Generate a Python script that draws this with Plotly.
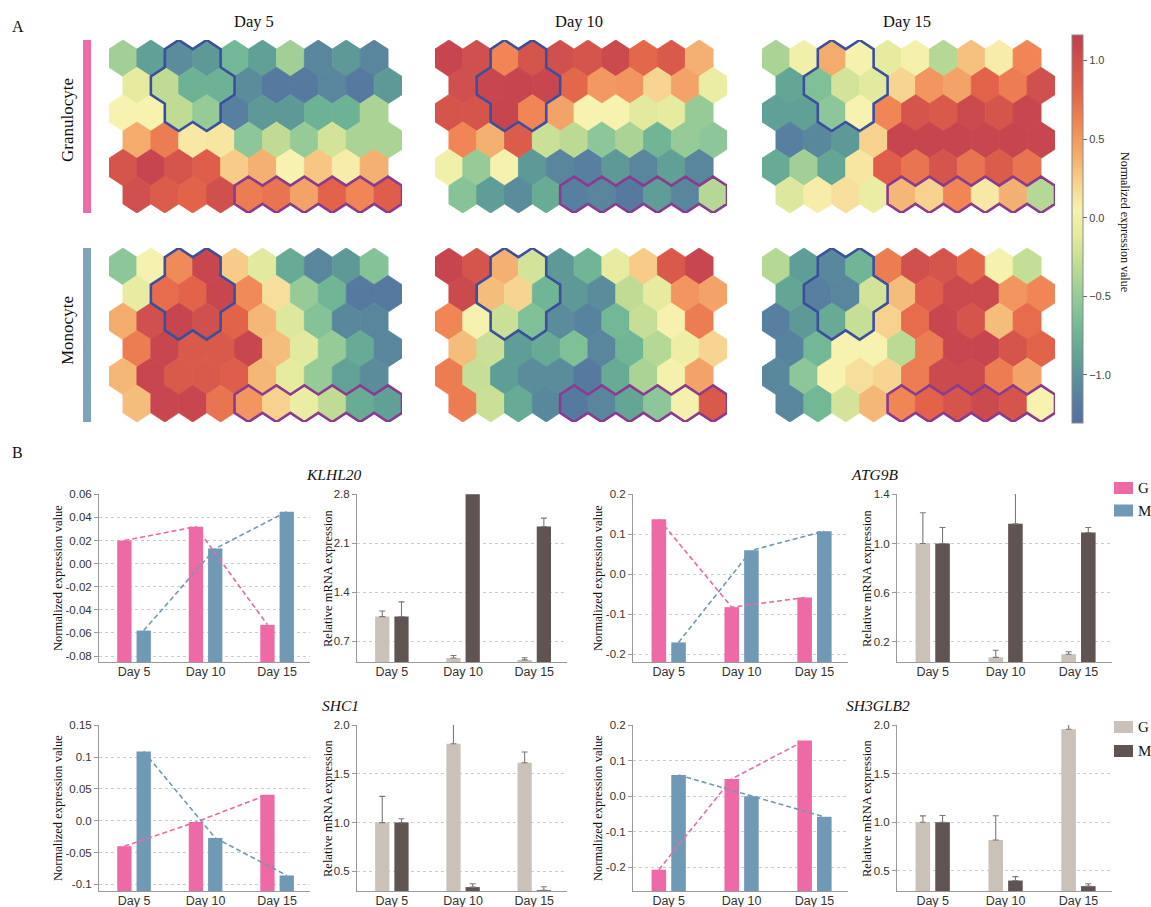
import plotly.graph_objects as go
from plotly.colors import sample_colorscale
from collections import Counter, defaultdict

W, H = 1151, 907

# ---------------- Panel A data (SOM node values, rows top->bottom, 10 columns) ----------------
map_days = ["Day 5", "Day 10", "Day 15"]
cell_types = ["Granulocyte", "Monocyte"]

gran_d5 = [
    [-0.45, -0.90, -1.05, -0.95, -0.70, -0.90, -0.45, -1.10, -0.95, -1.10],
    [-0.10, -0.30, -0.75, -0.75, -1.05, -1.20, -1.20, -1.10, -1.20, -0.95],
    [0.05, 0.05, -0.30, -0.50, -1.15, -0.95, -0.95, -0.75, -0.75, -0.40],
    [0.40, 0.65, 0.10, 0.12, -0.55, -0.30, -0.50, -0.20, -0.40, -0.40],
    [0.95, 1.10, 0.95, 0.85, 0.25, 0.38, 0.05, 0.28, 0.08, 0.38],
    [1.00, 0.88, 0.80, 1.00, 0.65, 0.70, 0.45, 0.80, 0.60, 0.85],
]
gran_d10 = [
    [1.10, 1.00, 0.60, 0.95, 1.00, 0.95, 1.05, 0.78, 0.90, 0.38],
    [1.00, 1.08, 1.10, 1.08, 0.78, 0.50, 0.52, 0.20, 0.45, -0.05],
    [0.95, 0.95, 1.10, 0.60, 0.45, 0.05, 0.05, -0.12, -0.10, -0.50],
    [0.60, 0.38, 0.87, -0.25, -0.32, -0.55, -0.40, -0.72, -0.50, -0.55],
    [0.00, -0.50, 0.03, -0.95, -1.10, -1.15, -0.95, -1.10, -0.90, -1.10],
    [-0.58, -0.92, -1.05, -0.80, -1.15, -1.10, -1.20, -0.92, -1.10, -0.35],
]
gran_d15 = [
    [-0.40, 0.00, 0.40, 0.03, -0.10, 0.02, -0.35, 0.30, 0.08, 0.60],
    [-0.85, -0.62, -0.20, -0.12, 0.20, 0.52, 0.45, 0.80, 0.65, 1.00],
    [-0.90, -0.90, -0.55, 0.05, 0.60, 0.95, 0.90, 1.05, 0.95, 1.08],
    [-1.15, -1.08, -0.95, 0.22, 1.10, 1.10, 1.10, 1.08, 1.10, 1.08],
    [-0.82, -0.45, -0.85, 0.12, 0.85, 0.70, 0.95, 0.70, 0.87, 0.70],
    [-0.15, 0.08, 0.15, -0.05, 0.35, 0.22, 0.60, 0.10, 0.38, -0.35],
]
mono_d5 = [
    [-0.55, 0.03, 0.58, 1.08, 0.25, -0.12, -0.82, -1.10, -0.95, -0.60],
    [-0.08, 0.75, 0.80, 1.08, 0.58, 0.15, -0.50, -0.72, -1.20, -1.20],
    [0.40, 1.00, 1.10, 1.00, 0.80, 0.35, -0.15, -0.60, -1.08, -1.10],
    [0.65, 1.08, 0.90, 0.90, 1.08, 0.32, -0.12, -0.50, -0.82, -1.10],
    [0.35, 1.08, 0.90, 0.90, 0.85, 0.35, -0.10, -0.50, -0.88, -1.05],
    [0.32, 1.08, 1.08, 0.70, 0.52, 0.22, -0.05, -0.30, -0.80, -0.90],
]
mono_d10 = [
    [1.10, 0.95, 0.38, -0.20, -0.95, -0.72, -0.08, 0.25, 0.90, 1.08],
    [1.05, 0.32, 0.20, -0.72, -0.95, -1.05, -0.30, -0.10, 0.52, 0.45],
    [0.60, 0.03, -0.25, -0.62, -1.05, -1.12, -0.70, -0.27, 0.06, 0.65],
    [0.32, -0.25, -0.92, -0.82, -0.62, -1.10, -0.72, -0.35, -0.03, 0.20],
    [0.65, -0.27, -0.92, -1.05, -1.05, -1.20, -0.82, -0.40, 0.02, 0.45],
    [0.65, -0.25, -0.82, -1.08, -1.20, -1.10, -0.86, -0.55, 0.02, 0.90],
]
mono_d15 = [
    [-0.35, -0.92, -1.08, -0.72, 0.65, 1.00, 0.95, 0.78, 0.03, -0.28],
    [-0.85, -1.15, -1.10, -0.20, 0.32, 0.85, 1.05, 1.05, 0.52, 0.60],
    [-1.15, -0.95, -0.82, -0.27, 0.22, 0.75, 1.08, 0.95, 0.32, 0.75],
    [-1.12, -0.70, 0.05, 0.05, -0.32, 0.65, 1.08, 1.10, 0.95, 0.80],
    [-1.08, -0.55, 0.05, 0.15, 0.20, 0.65, 1.05, 1.05, 0.65, 0.45],
    [-1.10, -0.70, -0.20, 0.35, 0.60, 0.80, 0.95, 1.05, 0.95, 0.05],
]
blue_cluster = [(0, 2), (0, 3), (1, 1), (1, 2), (1, 3), (2, 2), (2, 3)]
purple_cluster = [(5, 4), (5, 5), (5, 6), (5, 7), (5, 8), (5, 9)]
cbar_min, cbar_max = -1.307, 1.163
cbar_ticks = [-1.0, -0.5, 0.0, 0.5, 1.0]
cbar_title = "Normalized expression value"

# ---------------- Panel B data ----------------
b_days = ["Day 5", "Day 10", "Day 15"]
genes = ["KLHL20", "ATG9B", "SHC1", "SH3GLB2"]

klhl20_norm_g = [0.020, 0.032, -0.053]
klhl20_norm_m = [-0.058, 0.013, 0.045]
klhl20_rel_g = [1.05, 0.457, 0.43]
klhl20_rel_g_err = [0.08, 0.035, 0.03]
klhl20_rel_m = [1.05, 2.80, 2.34]
klhl20_rel_m_err = [0.21, 0.07, 0.12]

atg9b_norm_g = [0.138, -0.082, -0.058]
atg9b_norm_m = [-0.170, 0.060, 0.108]
atg9b_rel_g = [1.00, 0.075, 0.10]
atg9b_rel_g_err = [0.25, 0.057, 0.02]
atg9b_rel_m = [1.00, 1.16, 1.09]
atg9b_rel_m_err = [0.13, 0.28, 0.04]

shc1_norm_g = [-0.040, -0.002, 0.041]
shc1_norm_m = [0.109, -0.027, -0.086]
shc1_rel_g = [1.00, 1.81, 1.616]
shc1_rel_g_err = [0.27, 0.23, 0.11]
shc1_rel_m = [1.00, 0.337, 0.305]
shc1_rel_m_err = [0.04, 0.035, 0.035]

sh3glb2_norm_g = [-0.207, 0.049, 0.157]
sh3glb2_norm_m = [0.060, 0.000, -0.058]
sh3glb2_rel_g = [1.00, 0.816, 1.96]
sh3glb2_rel_g_err = [0.065, 0.25, 0.25]
sh3glb2_rel_m = [1.00, 0.398, 0.34]
sh3glb2_rel_m_err = [0.07, 0.04, 0.025]

klhl20_norm_ticks = [-0.08, -0.06, -0.04, -0.02, 0.00, 0.02, 0.04, 0.06]
klhl20_norm_labels = ["-0.08", "-0.06", "-0.04", "-0.02", "0.00", "0.02", "0.04", "0.06"]
klhl20_rel_ticks = [0.7, 1.4, 2.1, 2.8]
klhl20_rel_labels = ["0.7", "1.4", "2.1", "2.8"]
atg9b_norm_ticks = [-0.2, -0.1, 0.0, 0.1, 0.2]
atg9b_norm_labels = ["-0.2", "-0.1", "0.0", "0.1", "0.2"]
atg9b_rel_ticks = [0.2, 0.6, 1.0, 1.4]
atg9b_rel_labels = ["0.2", "0.6", "1.0", "1.4"]
shc1_norm_ticks = [-0.1, -0.05, 0.0, 0.05, 0.1, 0.15]
shc1_norm_labels = ["-0.1", "-0.05", "0.0", "0.05", "0.1", "0.15"]
shc1_rel_ticks = [0.5, 1.0, 1.5, 2.0]
shc1_rel_labels = ["0.5", "1.0", "1.5", "2.0"]
sh3glb2_norm_ticks = [-0.2, -0.1, 0.0, 0.1, 0.2]
sh3glb2_norm_labels = ["-0.2", "-0.1", "0.0", "0.1", "0.2"]
sh3glb2_rel_ticks = [0.5, 1.0, 1.5, 2.0]
sh3glb2_rel_labels = ["0.5", "1.0", "1.5", "2.0"]

# ---------------- styles ----------------
SERIF = "Liberation Serif, Times New Roman, serif"
SANS = "Liberation Sans, Arial, sans-serif"
PINK = "#EE6AA4"
BLUE = "#7099B6"
GREY_G = "#CAC1B9"
DARK_M = "#5F5452"
ERR_COL = "#7a7a7a"
AXIS_COL = "#9a9a9a"
GRID_COL = "#cccccc"
TXT = "#333333"

cs_vals = [-1.307, -1.2, -1.05, -0.9, -0.7, -0.5, -0.3, -0.1, 0.05, 0.25, 0.4, 0.6, 0.8, 0.95, 1.1, 1.163]
cs_hex = ['#5370A0', '#5679A0', '#5A8C9C', '#60A096', '#72B896', '#96CB98', '#C0DC94', '#E6EBA0',
          '#F7F2B0', '#F6CC88', '#F4AC6C', '#F08656', '#E2634A', '#D5554C', '#C6454F', '#C2414F']


def hex_to_rgb(h):
    h = h.lstrip('#')
    return "rgb(%d, %d, %d)" % (int(h[0:2], 16), int(h[2:4], 16), int(h[4:6], 16))


colorscale = [[(v - cbar_min) / (cbar_max - cbar_min), hex_to_rgb(c)] for v, c in zip(cs_vals, cs_hex)]
colorscale[0][0] = 0.0
colorscale[-1][0] = 1.0

fig = go.Figure()
layout = {}
shapes = []
annots = []
axis_count = [0]


def new_axes(x0, x1, y0, y1):
    axis_count[0] += 1
    n = axis_count[0]
    s = '' if n == 1 else str(n)
    layout['xaxis' + s] = dict(domain=[x0 / W, x1 / W], anchor='y' + s)
    layout['yaxis' + s] = dict(domain=[1 - y1 / H, 1 - y0 / H], anchor='x' + s)
    return 'xaxis' + s, 'yaxis' + s, 'x' + s, 'y' + s


def ann(text, x, y, size, family=SERIF, angle=0, xanchor='center', yanchor='middle', color='#111'):
    annots.append(dict(text=text, x=x / W, y=1 - y / H, xref='paper', yref='paper', showarrow=False,
                       textangle=angle, xanchor=xanchor, yanchor=yanchor,
                       font=dict(family=family, size=size, color=color)))


# ---------------- Panel A: hexagonal SOM maps ----------------
HEX = [(0, 2 / 3), (0.5, 1 / 3), (0.5, -1 / 3), (0, -2 / 3), (-0.5, -1 / 3), (-0.5, 1 / 3)]


def hex_center(r, c):
    return c + 0.5 * (r % 2), -r


def boundary_loop(cells):
    cnt = Counter()
    for r, c in cells:
        cx, cy = hex_center(r, c)
        vs = [(round(cx + dx, 4), round(cy + dy, 4)) for dx, dy in HEX]
        for i in range(6):
            cnt[frozenset((vs[i], vs[(i + 1) % 6]))] += 1
    adj = defaultdict(list)
    for e, k in cnt.items():
        if k == 1:
            a, b = tuple(e)
            adj[a].append(b)
            adj[b].append(a)
    start = sorted(adj)[0]
    loop = [start]
    prev, cur = None, start
    while True:
        nxt = [v for v in adj[cur] if v != prev][0]
        if nxt == start:
            break
        loop.append(nxt)
        prev, cur = cur, nxt
    loop.append(start)
    loop.append(loop[1])
    return loop


map_x = [(109, 402), (435, 727), (762, 1055)]
map_y = [(40, 213), (248, 422)]
grids = [[gran_d5, gran_d10, gran_d15], [mono_d5, mono_d10, mono_d15]]
all_vals = [v for rg in grids for g in rg for row in g for v in row]

first = True
for i, row_grids in enumerate(grids):
    for j, grid in enumerate(row_grids):
        xk, yk, xr, yr = new_axes(map_x[j][0], map_x[j][1], map_y[i][0], map_y[i][1])
        layout[xk].update(range=[-0.5, 10.0], visible=False, fixedrange=True)
        layout[yk].update(range=[-5 - 2 / 3, 2 / 3], visible=False, fixedrange=True)
        if first:
            cx_all = [hex_center(r, c)[0] for r in range(6) for c in range(10)]
            cy_all = [hex_center(r, c)[1] for r in range(6) for c in range(10)]
            fig.add_trace(go.Scatter(
                x=cx_all, y=cy_all, mode='markers', xaxis=xr, yaxis=yr, hoverinfo='skip', showlegend=False,
                marker=dict(size=1, opacity=0, color=all_vals[:60], colorscale=colorscale,
                            cmin=cbar_min, cmax=cbar_max, showscale=True,
                            colorbar=dict(x=1072 / W, xanchor='left', y=1 - 229 / H, yanchor='middle',
                                          len=388, lenmode='pixels', thickness=11, thicknessmode='pixels',
                                          outlinewidth=1, outlinecolor='#888', ticks='outside', ticklen=4,
                                          tickcolor='#666', tickvals=cbar_ticks, tickformat='.1f',
                                          tickfont=dict(family=SANS, size=11, color='#444'),
                                          xpad=0, ypad=0))))
            first = False
        flat = [v for row in grid for v in row]
        cols = sample_colorscale(colorscale, [(v - cbar_min) / (cbar_max - cbar_min) for v in flat])
        k = 0
        for r in range(6):
            for c in range(10):
                cx, cy = hex_center(r, c)
                xs = [cx + dx for dx, dy in HEX] + [cx + HEX[0][0]]
                ys = [cy + dy for dx, dy in HEX] + [cy + HEX[0][1]]
                fig.add_trace(go.Scatter(x=xs, y=ys, mode='lines', fill='toself', fillcolor=cols[k],
                                         line=dict(color=cols[k], width=0.8), xaxis=xr, yaxis=yr,
                                         hoverinfo='skip', showlegend=False))
                k += 1
        for cells, oc in ((blue_cluster, '#3C4F9E'), (purple_cluster, '#8A3B8F')):
            loop = boundary_loop(cells)
            fig.add_trace(go.Scatter(x=[p[0] for p in loop], y=[p[1] for p in loop], mode='lines',
                                     line=dict(color=oc, width=2.6), xaxis=xr, yaxis=yr,
                                     hoverinfo='skip', showlegend=False))

for j, d in enumerate(map_days):
    ann(d, (map_x[j][0] + map_x[j][1]) / 2 - 2, 22, 16.5)
ann(cell_types[0], 67, 120, 17, angle=-90)
ann(cell_types[1], 67, 331, 17, angle=-90)
shapes.append(dict(type='rect', xref='paper', yref='paper', x0=83 / W, x1=91 / W, y0=1 - 213 / H, y1=1 - 40 / H,
                   fillcolor='#EF6BA8', line=dict(width=0)))
shapes.append(dict(type='rect', xref='paper', yref='paper', x0=83 / W, x1=91 / W, y0=1 - 422 / H, y1=1 - 248 / H,
                   fillcolor='#7DA3BD', line=dict(width=0)))
ann(cbar_title, 1125, 222, 12, angle=90)
ann("A", 18, 27, 16)
ann("B", 17, 452, 16)

# ---------------- Panel B ----------------
pos = [0, 1, 2]
XRANGE = [-0.49, 2.46]


def style_axes(xk, yk, yrange, tv, tt):
    layout[xk].update(range=XRANGE, tickvals=pos, ticktext=b_days, showline=True, linecolor=AXIS_COL,
                      linewidth=1, ticks='', showgrid=False, zeroline=False, fixedrange=True,
                      ticklabelstandoff=-2,
                      tickfont=dict(family=SANS, size=12.5, color=TXT))
    span = yrange[1] - yrange[0]
    layout[yk].update(range=[yrange[0], yrange[1] + span * 0.002], tickvals=tv, ticktext=tt, showline=True,
                      linecolor=AXIS_COL, linewidth=1, ticks='outside', ticklen=4, tickcolor=AXIS_COL,
                      showgrid=True, gridcolor=GRID_COL, griddash='3px,3px', gridwidth=1, zeroline=False,
                      fixedrange=True, tickfont=dict(family=SANS, size=11.5, color=TXT))


def norm_plot(box, g, m, yrange, tv, tt):
    xk, yk, xr, yr = new_axes(*box)
    style_axes(xk, yk, yrange, tv, tt)
    base = yrange[0]
    for vals, color, off in ((g, PINK, -0.235), (m, BLUE, 0.035)):
        fig.add_trace(go.Bar(x=pos, y=[v - base for v in vals], base=base, width=0.2, offset=off,
                             marker=dict(color=color, line=dict(width=0)), xaxis=xr, yaxis=yr,
                             hoverinfo='skip', showlegend=False))
    for vals, color, off in ((g, PINK, -0.135), (m, BLUE, 0.135)):
        fig.add_trace(go.Scatter(x=[p + off for p in pos], y=vals, mode='lines',
                                 line=dict(color=color, width=1.6, dash='5px,3px'), xaxis=xr, yaxis=yr,
                                 hoverinfo='skip', showlegend=False))


def rel_plot(box, g, ge, m, me, yrange, tv, tt):
    xk, yk, xr, yr = new_axes(*box)
    style_axes(xk, yk, yrange, tv, tt)
    for vals, errs, color, off in ((g, ge, GREY_G, -0.235), (m, me, DARK_M, 0.035)):
        fig.add_trace(go.Bar(x=pos, y=vals, width=0.2, offset=off,
                             marker=dict(color=color, line=dict(width=0)),
                             error_y=dict(type='data', array=errs, arrayminus=[0] * len(errs), symmetric=False,
                                          color=ERR_COL, thickness=1.1, width=3),
                             xaxis=xr, yaxis=yr, hoverinfo='skip', showlegend=False))


R1 = (494, 662)
R2 = (725, 891)
XB = [(99, 310), (357, 567), (633, 848), (897, 1112)]
norm_plot((*XB[0], *R1), klhl20_norm_g, klhl20_norm_m, [-0.0852, 0.06], klhl20_norm_ticks, klhl20_norm_labels)
rel_plot((*XB[1], *R1), klhl20_rel_g, klhl20_rel_g_err, klhl20_rel_m, klhl20_rel_m_err, [0.4, 2.8],
         klhl20_rel_ticks, klhl20_rel_labels)
norm_plot((*XB[2], *R1), atg9b_norm_g, atg9b_norm_m, [-0.219, 0.2], atg9b_norm_ticks, atg9b_norm_labels)
rel_plot((*XB[3], *R1), atg9b_rel_g, atg9b_rel_g_err, atg9b_rel_m, atg9b_rel_m_err, [0.037, 1.4],
         atg9b_rel_ticks, atg9b_rel_labels)
norm_plot((*XB[0], *R2), shc1_norm_g, shc1_norm_m, [-0.1104, 0.15], shc1_norm_ticks, shc1_norm_labels)
rel_plot((*XB[1], *R2), shc1_rel_g, shc1_rel_g_err, shc1_rel_m, shc1_rel_m_err, [0.297, 2.0],
         shc1_rel_ticks, shc1_rel_labels)
norm_plot((*XB[2], *R2), sh3glb2_norm_g, sh3glb2_norm_m, [-0.267, 0.2], sh3glb2_norm_ticks,
          sh3glb2_norm_labels)
rel_plot((*XB[3], *R2), sh3glb2_rel_g, sh3glb2_rel_g_err, sh3glb2_rel_m, sh3glb2_rel_m_err, [0.29, 2.0],
         sh3glb2_rel_ticks, sh3glb2_rel_labels)

# gene titles
ann("<i>%s</i>" % genes[0], 334, 474, 15.5)
ann("<i>%s</i>" % genes[1], 874, 474, 15.5)
ann("<i>%s</i>" % genes[2], 340, 705, 15.5)
ann("<i>%s</i>" % genes[3], 878, 705, 15.5)

# y axis titles
for yc in ((R1[0] + R1[1]) / 2, (R2[0] + R2[1]) / 2):
    ann("Normalized expression value", 58, yc, 12.5, angle=-90)
    ann("Relative mRNA expression", 328, yc, 12.5, angle=-90)
    ann("Normalized expression value", 598, yc, 12.5, angle=-90)
    ann("Relative mRNA expression", 867, yc, 12.5, angle=-90)

# legends
legend_items = [(PINK, "G", 482), (BLUE, "M", 504.5), (GREY_G, "G", 721), (DARK_M, "M", 745)]
for col, lab, y0 in legend_items:
    shapes.append(dict(type='rect', xref='paper', yref='paper', x0=1114 / W, x1=1133 / W,
                       y0=1 - (y0 + 12) / H, y1=1 - y0 / H, fillcolor=col, line=dict(width=0)))
    ann(lab, 1136, y0 + 6, 15, xanchor='left')

layout.update(width=W, height=H, margin=dict(l=0, r=0, t=0, b=0, autoexpand=False),
              paper_bgcolor='white', plot_bgcolor='white', showlegend=False, barmode='overlay',
              shapes=shapes, annotations=annots)
fig.update_layout(**layout)
fig.write_html("out.html", config={'displayModeBar': False},
               post_script="document.body.style.margin='0';document.body.style.overflow='hidden';")
